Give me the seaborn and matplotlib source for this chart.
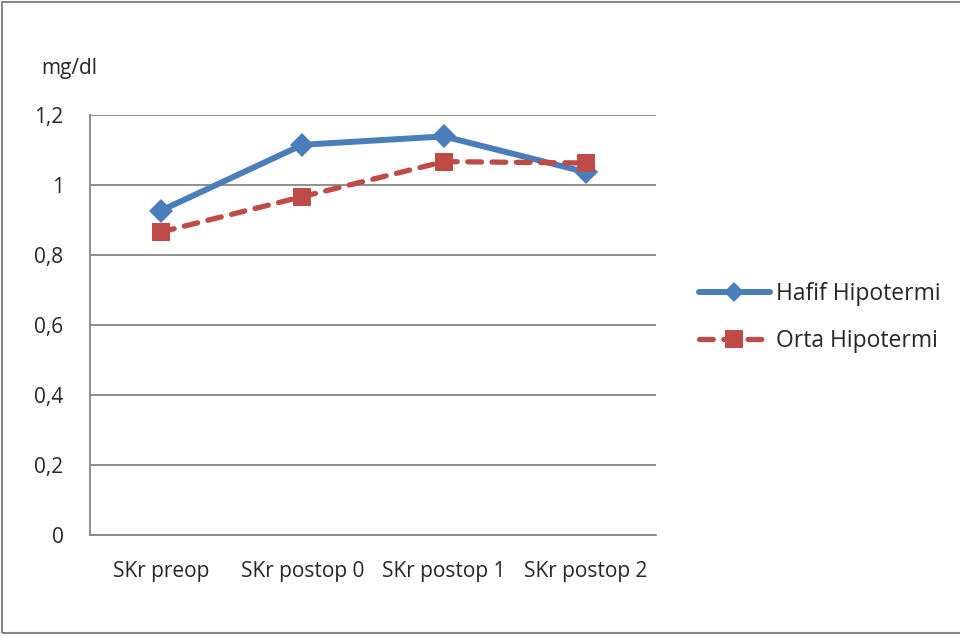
import matplotlib
matplotlib.use("Agg")
import matplotlib.pyplot as plt
import matplotlib.patches as mpatches
import numpy as np
import pandas as pd
import seaborn as sns

# data
categories = ['SKr preop', 'SKr postop 0', 'SKr postop 1', 'SKr postop 2']
hafif = [0.926, 1.114, 1.138, 1.036]
orta = [0.865, 0.966, 1.066, 1.062]
series_names = ['Hafif Hipotermi', 'Orta Hipotermi']
y_ticks = [0, 0.2, 0.4, 0.6, 0.8, 1.0, 1.2]
y_tick_labels = ['0', '0,2', '0,4', '0,6', '0,8', '1', '1,2']

df = pd.DataFrame({
    'pos': list(range(len(categories))) * 2,
    'value': hafif + orta,
    'series': [series_names[0]] * len(hafif) + [series_names[1]] * len(orta),
})

sns.set_style('white')
plt.rcParams['font.family'] = ['Open Sans', 'DejaVu Sans']
FS = 15

fig = plt.figure(figsize=(9.6, 6.37), dpi=100)
ax = fig.add_axes([0.09375, 0.160, 0.590, 0.660])

colors = {series_names[0]: '#4A7EBB', series_names[1]: '#BE4B48'}
blue_style = dict(color=colors[series_names[0]], lw=4.3, marker='D', markersize=12,
                  markeredgewidth=0, solid_capstyle='round')
red_style = dict(color=colors[series_names[1]], lw=3.8, ls=(0, (2.6, 2.0)), marker='s',
                 markersize=12.5, markeredgewidth=0, dash_capstyle='round')

sns.lineplot(data=df[df['series'] == series_names[0]], x='pos', y='value', ax=ax,
             legend=False, **blue_style)
sns.lineplot(data=df[df['series'] == series_names[1]], x='pos', y='value', ax=ax,
             legend=False, **red_style)

ax.set_xlim(-0.5, 3.5)
ax.set_ylim(0, 1.2)

# grid and spines like an Excel chart
ax.set_yticks(y_ticks)
ax.set_yticklabels(y_tick_labels, fontsize=FS)
ax.yaxis.grid(True, color='#868686', linewidth=1.3)
ax.set_axisbelow(True)
for side in ['top', 'right']:
    ax.spines[side].set_visible(False)
for side in ['left', 'bottom']:
    ax.spines[side].set_color('#868686')
    ax.spines[side].set_linewidth(1.3)

ax.set_xticks(np.arange(-0.5, len(categories), 1.0))
ax.set_xticklabels([])
ax.set_xticks(range(len(categories)), minor=True)
ax.set_xticklabels(categories, minor=True, fontsize=FS)
ax.tick_params(axis='x', which='major', length=6, width=1.3, color='#868686', direction='out')
ax.tick_params(axis='x', which='minor', length=0, pad=19)
ax.tick_params(axis='y', length=6, width=1.3, color='#868686', direction='out', pad=13)
ax.set_xlabel('')
ax.set_ylabel('')

fig.text(0.043, 0.893, 'mg/dl', fontsize=FS, va='center', ha='left')

# legend
handles = [
    plt.Line2D([], [], **{**blue_style, 'markersize': 10}),
    plt.Line2D([], [], **{**red_style, 'markersize': 13}),
]
fig.legend(handles, series_names, loc='center left', bbox_to_anchor=(0.728, 0.502),
           frameon=False, fontsize=16.5, handlelength=3.1, labelspacing=1.0,
           handletextpad=0.25, borderpad=0, borderaxespad=0)

# outer chart border (right edge is cut off in the reference)
fig.patches.append(mpatches.Rectangle((0.002, 0.0063), 1.05, 0.991, transform=fig.transFigure,
                                      fill=False, edgecolor='#868686', linewidth=1.5))

fig.savefig('out.png', dpi=100)
